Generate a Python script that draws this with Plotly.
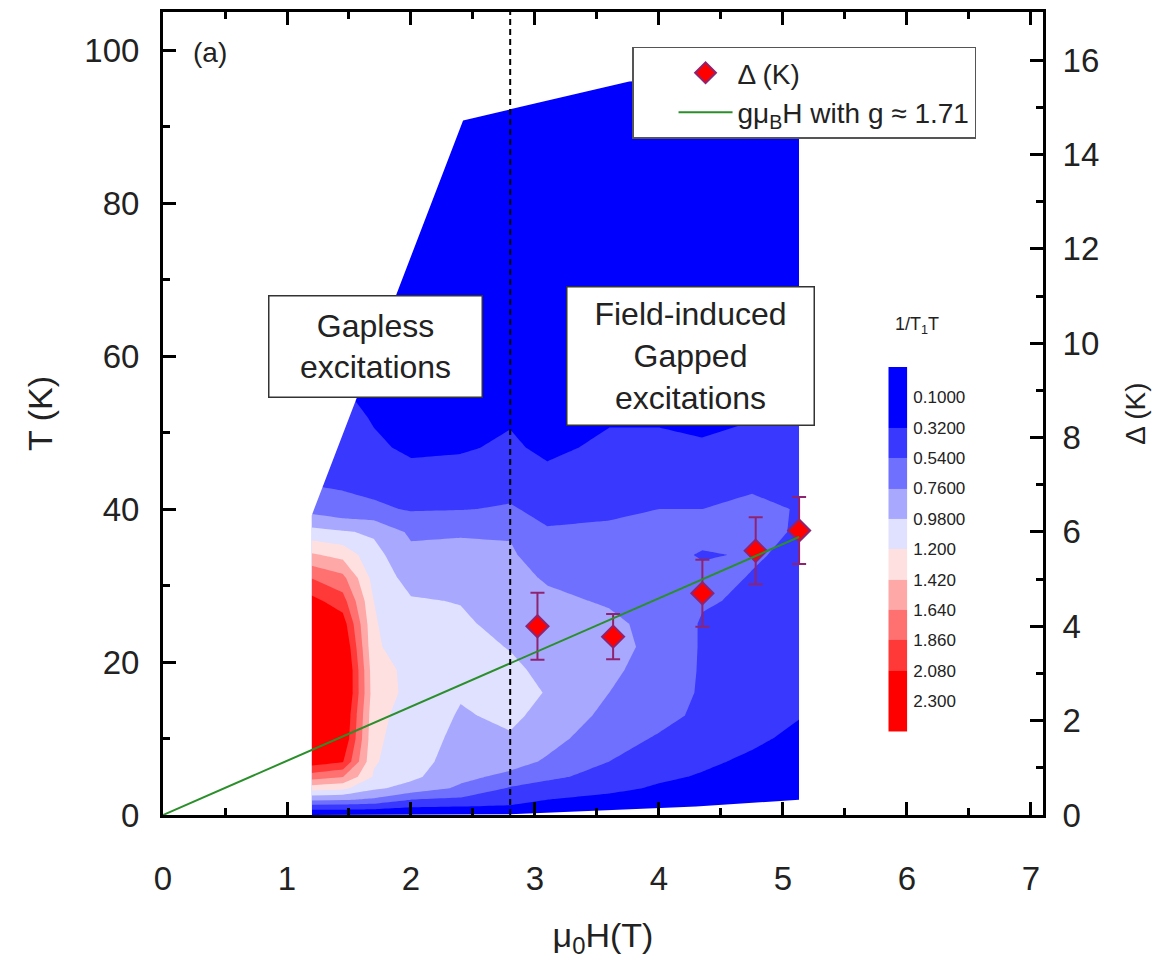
import plotly.graph_objects as go

# ---------------- data ----------------
# 1/T1T map measured on a (field, temperature) grid
field_H = [1.2, 1.45, 1.7, 2.0, 2.4, 2.8, 3.1, 3.6, 4.0, 4.35, 4.75, 5.13]
temp_T = [0, 1, 2, 3.5, 5, 7, 10, 13, 16, 19, 22, 25, 28, 31, 34, 37, 40, 44, 48, 52, 60, 75, 97]

# one column of 1/T1T per field, ordered like temp_T
rate_by_field = {
    1.2:  [0.15, 0.40, 0.80, 1.30, 1.75, 2.20, 2.40, 2.45, 2.50, 2.50, 2.45, 2.35, 2.15, 1.85, 1.45, 1.05, 0.68, 0.50, 0.40, 0.30, 0.20, 0.10, 0.05],
    1.45: [0.15, 0.40, 0.78, 1.25, 1.65, 2.10, 2.30, 2.35, 2.45, 2.45, 2.35, 2.20, 1.95, 1.70, 1.35, 1.00, 0.60, 0.50, 0.45, 0.40, 0.25, 0.10, 0.05],
    1.7:  [0.15, 0.38, 0.72, 1.02, 1.18, 1.22, 1.24, 1.26, 1.30, 1.28, 1.23, 1.22, 1.20, 1.12, 1.05, 0.95, 0.58, 0.45, 0.36, 0.30, 0.18, 0.10, 0.05],
    2.0:  [0.15, 0.32, 0.54, 0.90, 1.03, 1.08, 1.10, 1.12, 1.15, 1.15, 1.10, 1.05, 1.00, 0.90, 0.82, 0.72, 0.52, 0.40, 0.28, 0.22, 0.15, 0.10, 0.05],
    2.4:  [0.12, 0.30, 0.50, 0.72, 0.82, 0.87, 0.92, 0.96, 1.00, 1.05, 1.05, 1.02, 0.97, 0.90, 0.82, 0.74, 0.53, 0.40, 0.30, 0.22, 0.15, 0.10, 0.05],
    2.8:  [0.12, 0.28, 0.42, 0.52, 0.70, 0.85, 0.96, 1.02, 1.05, 1.02, 0.97, 0.90, 0.85, 0.82, 0.79, 0.74, 0.56, 0.45, 0.35, 0.30, 0.20, 0.10, 0.05],
    3.1:  [0.10, 0.20, 0.32, 0.46, 0.58, 0.73, 0.84, 0.92, 0.97, 0.93, 0.88, 0.84, 0.80, 0.74, 0.64, 0.56, 0.48, 0.37, 0.28, 0.22, 0.15, 0.10, 0.05],
    3.6:  [0.10, 0.15, 0.25, 0.38, 0.47, 0.54, 0.62, 0.70, 0.76, 0.80, 0.83, 0.80, 0.74, 0.68, 0.62, 0.57, 0.51, 0.42, 0.36, 0.30, 0.20, 0.10, 0.05],
    4.0:  [0.08, 0.12, 0.20, 0.29, 0.36, 0.43, 0.52, 0.60, 0.63, 0.67, 0.70, 0.70, 0.68, 0.65, 0.62, 0.58, 0.54, 0.44, 0.36, 0.30, 0.20, 0.10, 0.05],
    4.35: [0.06, 0.10, 0.15, 0.22, 0.30, 0.36, 0.43, 0.50, 0.52, 0.52, 0.52, 0.52, 0.56, 0.60, 0.52, 0.62, 0.54, 0.44, 0.34, 0.28, 0.18, 0.10, 0.05],
    4.75: [0.05, 0.07, 0.10, 0.14, 0.20, 0.28, 0.36, 0.40, 0.43, 0.45, 0.47, 0.49, 0.51, 0.53, 0.56, 0.60, 0.58, 0.50, 0.38, 0.31, 0.20, 0.10, 0.05],
    5.13: [0.04, 0.05, 0.07, 0.10, 0.14, 0.20, 0.27, 0.33, 0.37, 0.40, 0.42, 0.44, 0.46, 0.48, 0.50, 0.52, 0.53, 0.46, 0.38, 0.32, 0.20, 0.10, 0.05],
}

# edges of the measured (H, T) domain
domain_top_H = [1.2, 2.42, 3.76, 5.13]
domain_top_T = [39.2, 90.8, 95.9, 97.0]
domain_bottom_H = [1.2, 2.8, 3.5, 4.3, 5.13]
domain_bottom_T = [0.0, 0.1, 0.6, 1.1, 2.0]

# contour levels of 1/T1T and their colours
levels = [0.10, 0.32, 0.54, 0.76, 0.98, 1.20, 1.42, 1.64, 1.86, 2.08, 2.30]
level_labels = ["0.1000", "0.3200", "0.5400", "0.7600", "0.9800",
                "1.200", "1.420", "1.640", "1.860", "2.080", "2.300"]
band_colors = ["#0000FF", "#3838FF", "#7070FF", "#A8A8FF", "#E0E0FF",
               "#FFE0E0", "#FFA8A8", "#FF7070", "#FF3838", "#FF0000"]

# spin gap from the fits
gap_H = [3.02, 3.63, 4.35, 4.78, 5.13]
gap_K = [4.00, 3.78, 4.70, 5.60, 6.03]
gap_err = [0.71, 0.48, 0.71, 0.71, 0.71]

# Zeeman energy g*muB*H/kB
g_factor = 1.71
muB_over_kB = 0.67171  # K/T
zeeman_H = [0.0, 5.13]

boundary_H = 2.8
T_MAX = 104.97
GAP_MAX = 17.02
H_MAX = 7.097

# ---------------- figure ----------------
FONT = "Liberation Sans, Arial, sans-serif"
z = [[rate_by_field[h][i] for h in field_H] for i in range(len(temp_T))]
nb = len(band_colors)
colorscale = [[k / (nb - 1), c] for k, c in enumerate(band_colors)]
step = levels[2] - levels[1]

fig = go.Figure()

fig.add_trace(go.Contour(
    x=field_H, y=temp_T, z=z,
    contours=dict(start=levels[1], end=levels[-2], size=step,
                  coloring="fill", showlines=False),
    line=dict(width=0, smoothing=0),
    colorscale=colorscale, showscale=False, hoverinfo="skip",
    showlegend=False,
))

# blank out everything outside the measured domain
pad = 0.06
top_x = [field_H[0] - pad] + domain_top_H + [domain_top_H[-1] + pad, domain_top_H[-1] + pad, field_H[0] - pad]
top_y = [domain_top_T[0]] + domain_top_T + [domain_top_T[-1], T_MAX + 10, T_MAX + 10]
bot_x = [field_H[0] - pad] + domain_bottom_H + [domain_bottom_H[-1] + pad, domain_bottom_H[-1] + pad, field_H[0] - pad]
bot_y = [domain_bottom_T[0]] + domain_bottom_T + [domain_bottom_T[-1], -10, -10]
for xs, ys in ((top_x, top_y), (bot_x, bot_y)):
    fig.add_trace(go.Scatter(x=xs, y=ys, mode="lines", fill="toself",
                             fillcolor="white", line=dict(width=0, color="white"),
                             hoverinfo="skip", showlegend=False))

# gap data and Zeeman line on the right axis
fig.add_trace(go.Scatter(
    x=gap_H, y=gap_K, yaxis="y2", mode="markers", name="Δ (K)",
    legendgroup="a",
    marker=dict(symbol="diamond", size=17, color="#FF0000",
                line=dict(color="#8E2471", width=2)),
    error_y=dict(type="data", array=gap_err, color="#8E2471", thickness=2, width=7),
))
fig.add_trace(go.Scatter(
    x=zeeman_H, y=[g_factor * muB_over_kB * h for h in zeeman_H], yaxis="y2",
    mode="lines", name="gμ<sub>B</sub>H with g ≈ 1.71", legendgroup="b",
    line=dict(color="#2A8F2A", width=2),
))

# discrete colour bar
bar_edges = [levels[0] - step] + levels[1:-1] + [levels[-1] + step]
fig.add_trace(go.Heatmap(
    x=[0, 1], y=bar_edges, z=[[k] for k in range(nb)],
    xaxis="x2", yaxis="y3", colorscale=colorscale, zmin=0, zmax=nb - 1,
    showscale=False, hoverinfo="skip", showlegend=False,
))

axis_common = dict(showline=True, linewidth=3, linecolor="black", ticks="inside",
                   tickwidth=3, tickcolor="black", ticklen=13, showgrid=False,
                   zeroline=False, automargin=False,
                   tickfont=dict(family=FONT, size=33, color="#222"))

fig.update_layout(
    template="none",
    width=1160, height=962,
    margin=dict(l=163, r=117, t=12, b=147, pad=0),
    paper_bgcolor="white", plot_bgcolor="white",
    font=dict(family=FONT, color="#222"),
    xaxis=dict(range=[0, H_MAX], dtick=1, tick0=0, mirror="ticks",
               minor=dict(dtick=0.5, ticks="inside", ticklen=7, tickwidth=3, tickcolor="black"),
               ticklabelstandoff=32,
               title=dict(text="μ<sub>0</sub>H(T)", font=dict(family=FONT, size=34), standoff=28),
               **axis_common),
    yaxis=dict(range=[0, T_MAX], dtick=20, tick0=0,
               minor=dict(dtick=10, ticks="inside", ticklen=7, tickwidth=3, tickcolor="black"),
               ticklabelstandoff=14,
               title=dict(text="T (K)", font=dict(family=FONT, size=34), standoff=22),
               **axis_common),
    yaxis2=dict(range=[0, GAP_MAX], dtick=2, tick0=0, overlaying="y", side="right",
                anchor="x",
                minor=dict(dtick=1, ticks="inside", ticklen=7, tickwidth=3, tickcolor="black"),
                ticklabelstandoff=10,
                title=dict(text="Δ (K)", font=dict(family=FONT, size=28), standoff=28),
                **axis_common),
    xaxis2=dict(domain=[0.8242, 0.8458], anchor="y3", range=[0, 1], visible=False),
    yaxis3=dict(domain=[0.1040, 0.5580], anchor="x2", range=[bar_edges[-1], bar_edges[0]],
                side="right", tickvals=levels, ticktext=level_labels, ticks="",
                showline=False, showgrid=False, zeroline=False, automargin=False,
                ticklabelstandoff=5,
                tickfont=dict(family=FONT, size=17, color="#222")),
    legend=dict(x=0.533, y=0.957, xanchor="left", yanchor="top",
                bgcolor="white", bordercolor="#555", borderwidth=1.5,
                font=dict(family=FONT, size=28, color="#222"),
                indentation=40, itemwidth=54, tracegroupgap=8,
                traceorder="normal"),
    shapes=[dict(type="line", xref="x", yref="y domain", x0=boundary_H, x1=boundary_H,
                 y0=0, y1=1, line=dict(color="black", width=2, dash="6px,4px"))],
    annotations=[
        dict(text="(a)", xref="paper", yref="paper", x=0.0538, y=0.949,
             xanchor="center", yanchor="middle",
             showarrow=False, font=dict(family=FONT, size=28, color="#222")),
        dict(text="Gapless<br>excitations", xref="paper", yref="paper",
             x=0.2416, y=0.584, xanchor="center", yanchor="middle",
             showarrow=False, width=212, height=100,
             align="center", valign="middle", bgcolor="white",
             bordercolor="#333", borderwidth=1.5, borderpad=0,
             font=dict(family=FONT, size=32, color="#222")),
        dict(text="Field-induced<br>Gapped<br>excitations", xref="paper", yref="paper",
             x=0.5995, y=0.5722, xanchor="center", yanchor="middle",
             showarrow=False, width=246, height=137,
             align="center", valign="middle", bgcolor="white",
             bordercolor="#333", borderwidth=1.5, borderpad=0,
             font=dict(family=FONT, size=32, color="#222")),
        dict(text="1/T<sub>1</sub>T", xref="paper", yref="paper", x=0.857, y=0.609,
             xanchor="center", yanchor="middle",
             showarrow=False, font=dict(family=FONT, size=18, color="#222")),
    ],
)

fig.write_html("out.html")
